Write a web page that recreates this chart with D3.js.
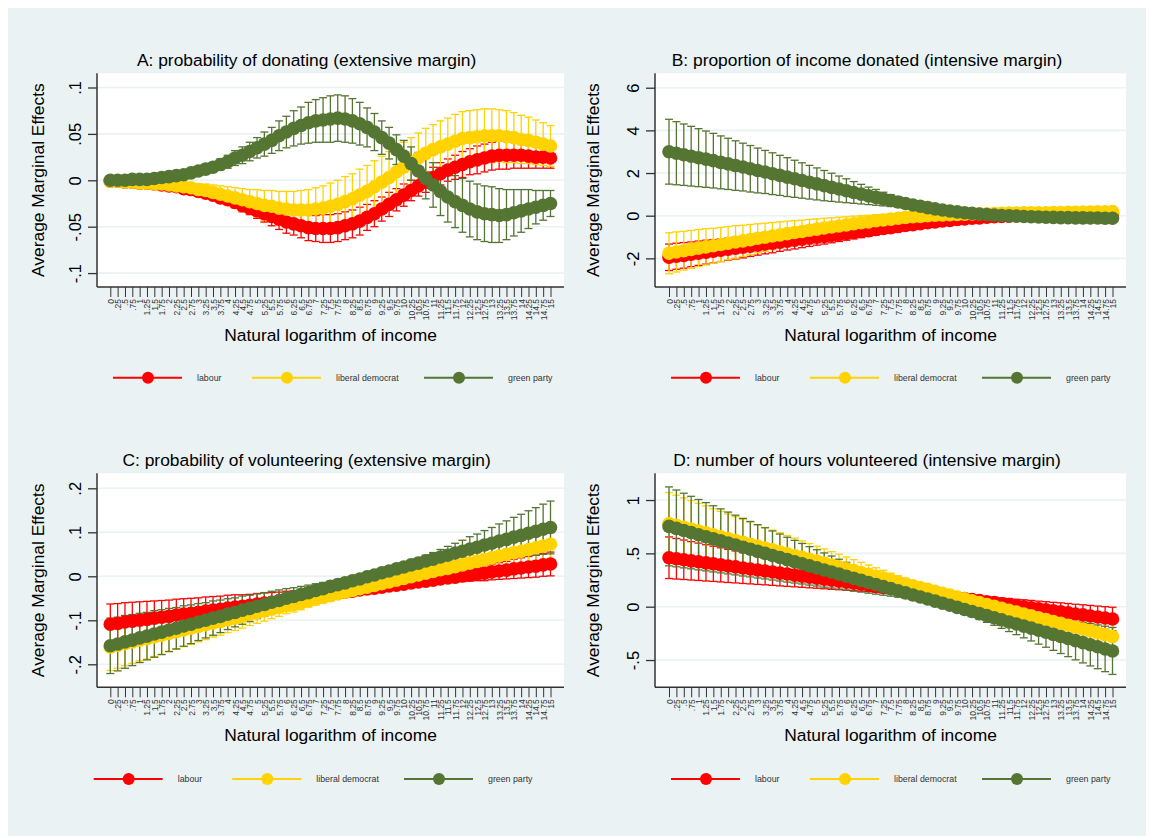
<!DOCTYPE html>
<html>
<head>
<meta charset="utf-8">
<script src="https://cdn.jsdelivr.net/npm/d3@7"></script>
<style>
body { margin: 0; background: #fff; }
svg { display: block; }
text { font-family: "Liberation Sans", Arial, sans-serif; }
</style>
</head>
<body>
<svg id="chart" width="1150" height="839"></svg>
<script>
// x values: natural log of income, 0 to 15 by .25
var xLabels = ["0",".25",".5",".75","1","1.25","1.5","1.75","2","2.25","2.5","2.75","3","3.25","3.5","3.75",
  "4","4.25","4.5","4.75","5","5.25","5.5","5.75","6","6.25","6.5","6.75","7","7.25","7.5","7.75",
  "8","8.25","8.5","8.75","9","9.25","9.5","9.75","10","10.25","10.5","10.75","11","11.25","11.5","11.75",
  "12","12.25","12.5","12.75","13","13.25","13.5","13.75","14","14.25","14.5","14.75","15"];
var xValues = xLabels.map(Number);

var seriesNames = ["labour", "liberal democrat", "green party"];
var seriesColors = ["#ff0000", "#ffd200", "#557532"];

// A: probability of donating
var aLabour = [-0.001,-0.001,-0.002,-0.002, -0.003,-0.003,-0.004,-0.005, -0.006,-0.007,-0.009,-0.010,
  -0.012,-0.014,-0.016,-0.019, -0.021,-0.024,-0.027,-0.030, -0.033,-0.036,-0.039,-0.042,
  -0.045,-0.047,-0.049,-0.051, -0.052,-0.052,-0.052,-0.051, -0.049,-0.047,-0.044,-0.040,
  -0.036,-0.031,-0.026,-0.021, -0.016,-0.011,-0.006,-0.002, 0.003,0.007,0.011,0.014,
  0.017,0.020,0.022,0.024, 0.026,0.027,0.027,0.027, 0.027,0.026,0.025,0.025, 0.024];
var aLabourCI = [0.001,0.001,0.001,0.001, 0.001,0.001,0.002,0.002, 0.002,0.002,0.003,0.003,
  0.003,0.004,0.004,0.005, 0.005,0.006,0.007,0.007, 0.008,0.009,0.010,0.011,
  0.012,0.012,0.013,0.014, 0.014,0.015,0.015,0.015, 0.015,0.015,0.015,0.014,
  0.014,0.013,0.013,0.012, 0.012,0.011,0.011,0.011, 0.011,0.012,0.012,0.013,
  0.014,0.014,0.015,0.015, 0.015,0.015,0.015,0.014, 0.014,0.013,0.012,0.012, 0.011];
var aLibDem = [-0.001,-0.001,-0.002,-0.002, -0.003,-0.003,-0.004,-0.004, -0.005,-0.006,-0.007,-0.008,
  -0.010,-0.011,-0.013,-0.015, -0.017,-0.019,-0.021,-0.023, -0.025,-0.027,-0.028,-0.030,
  -0.031,-0.032,-0.032,-0.032, -0.031,-0.030,-0.028,-0.026, -0.023,-0.020,-0.016,-0.012,
  -0.007,-0.002,0.003,0.009, 0.014,0.019,0.024,0.029, 0.033,0.036,0.039,0.042,
  0.045,0.046,0.047,0.048, 0.048,0.048,0.047,0.046, 0.044,0.043,0.041,0.039, 0.037];
var aLibDemCI = [0.001,0.001,0.001,0.002, 0.002,0.002,0.003,0.003, 0.004,0.004,0.005,0.005,
  0.006,0.007,0.008,0.009, 0.010,0.011,0.012,0.013, 0.015,0.016,0.017,0.018,
  0.019,0.020,0.021,0.022, 0.023,0.024,0.025,0.026, 0.027,0.027,0.028,0.028,
  0.028,0.028,0.028,0.027, 0.027,0.027,0.027,0.027, 0.027,0.028,0.028,0.029,
  0.029,0.029,0.029,0.029, 0.029,0.028,0.028,0.027, 0.026,0.025,0.024,0.023, 0.022];
var aGreen = [0.000,0.000,0.000,0.001, 0.001,0.001,0.002,0.003, 0.004,0.005,0.006,0.008,
  0.010,0.012,0.014,0.017, 0.020,0.024,0.027,0.031, 0.035,0.039,0.043,0.048,
  0.052,0.056,0.059,0.062, 0.064,0.065,0.066,0.067, 0.066,0.064,0.061,0.057,
  0.052,0.046,0.040,0.033, 0.026,0.018,0.010,0.002, -0.005,-0.012,-0.018,-0.023,
  -0.027,-0.031,-0.034,-0.036, -0.037,-0.038,-0.037,-0.035, -0.033,-0.031,-0.029,-0.027, -0.025];
var aGreenCI = [0.001,0.001,0.001,0.001, 0.001,0.002,0.002,0.002, 0.003,0.003,0.003,0.004,
  0.004,0.005,0.005,0.006, 0.007,0.008,0.009,0.010, 0.011,0.013,0.014,0.016,
  0.017,0.019,0.020,0.022, 0.023,0.024,0.025,0.025, 0.025,0.024,0.023,0.021,
  0.020,0.018,0.017,0.016, 0.017,0.018,0.020,0.022, 0.024,0.026,0.027,0.028,
  0.029,0.030,0.030,0.030, 0.030,0.029,0.027,0.025, 0.023,0.021,0.018,0.016, 0.014];

// B: proportion of income donated
var bLabour = [-1.95,-1.90,-1.86,-1.81, -1.76,-1.71,-1.67,-1.62, -1.57,-1.52,-1.48,-1.43,
  -1.38,-1.33,-1.29,-1.24, -1.19,-1.15,-1.10,-1.06, -1.01,-0.97,-0.92,-0.88,
  -0.83,-0.79,-0.74,-0.70, -0.65,-0.60,-0.56,-0.51, -0.46,-0.42,-0.37,-0.33,
  -0.29,-0.25,-0.22,-0.18, -0.15,-0.12,-0.10,-0.07, -0.05,-0.03,-0.02,0.00,
  0.01,0.02,0.03,0.04, 0.05,0.06,0.06,0.07, 0.08,0.08,0.09,0.09, 0.10];
var bLabourCI = [0.62,0.61,0.60,0.58, 0.57,0.56,0.55,0.53, 0.52,0.51,0.50,0.48,
  0.47,0.46,0.45,0.43, 0.42,0.41,0.40,0.38, 0.37,0.36,0.35,0.33,
  0.32,0.30,0.29,0.27, 0.26,0.24,0.23,0.21, 0.20,0.18,0.17,0.15,
  0.14,0.12,0.11,0.09, 0.08,0.07,0.06,0.06, 0.05,0.05,0.05,0.05,
  0.05,0.05,0.05,0.05, 0.06,0.06,0.06,0.06, 0.06,0.06,0.07,0.07, 0.07];
var bLibDem = [-1.76,-1.70,-1.64,-1.58, -1.52,-1.46,-1.41,-1.35, -1.29,-1.23,-1.18,-1.12,
  -1.06,-1.01,-0.95,-0.90, -0.84,-0.79,-0.74,-0.68, -0.63,-0.58,-0.53,-0.48,
  -0.43,-0.38,-0.33,-0.29, -0.24,-0.20,-0.16,-0.12, -0.08,-0.05,-0.03,0.00,
  0.02,0.03,0.05,0.06, 0.07,0.08,0.09,0.09, 0.10,0.11,0.12,0.12,
  0.13,0.13,0.14,0.14, 0.15,0.15,0.16,0.16, 0.17,0.17,0.18,0.18, 0.19];
var bLibDemCI = [0.96,0.94,0.91,0.89, 0.87,0.85,0.82,0.80, 0.78,0.76,0.73,0.71,
  0.68,0.66,0.63,0.61, 0.58,0.56,0.53,0.51, 0.48,0.46,0.43,0.41,
  0.38,0.36,0.33,0.31, 0.28,0.26,0.24,0.21, 0.19,0.17,0.15,0.14,
  0.12,0.11,0.10,0.09, 0.08,0.08,0.07,0.07, 0.06,0.06,0.06,0.06,
  0.06,0.06,0.06,0.06, 0.06,0.06,0.06,0.07, 0.07,0.07,0.07,0.07, 0.07];
var bGreen = [3.00,2.93,2.86,2.79, 2.72,2.65,2.58,2.50, 2.43,2.35,2.28,2.20,
  2.12,2.05,1.97,1.89, 1.81,1.73,1.65,1.57, 1.49,1.41,1.33,1.25,
  1.17,1.09,1.01,0.93, 0.86,0.78,0.71,0.64, 0.57,0.50,0.44,0.38,
  0.32,0.27,0.22,0.18, 0.14,0.11,0.08,0.05, 0.03,0.01,-0.01,-0.02,
  -0.04,-0.05,-0.06,-0.07, -0.08,-0.09,-0.09,-0.10, -0.10,-0.11,-0.11,-0.12, -0.12];
var bGreenCI = [1.52,1.48,1.44,1.40, 1.36,1.32,1.28,1.24, 1.20,1.16,1.12,1.09,
  1.05,1.01,0.98,0.94, 0.91,0.87,0.83,0.79, 0.75,0.71,0.66,0.61,
  0.56,0.51,0.46,0.41, 0.37,0.32,0.28,0.25, 0.21,0.18,0.15,0.13,
  0.11,0.09,0.08,0.07, 0.06,0.05,0.05,0.05, 0.05,0.05,0.05,0.05,
  0.05,0.06,0.06,0.06, 0.06,0.06,0.06,0.06, 0.07,0.07,0.07,0.07, 0.07];

// C: probability of volunteering
var cLabour = [-0.109,-0.107,-0.104,-0.102, -0.100,-0.098,-0.095,-0.093, -0.091,-0.088,-0.086,-0.084,
  -0.082,-0.079,-0.077,-0.075, -0.072,-0.070,-0.068,-0.066, -0.063,-0.061,-0.059,-0.057,
  -0.054,-0.052,-0.050,-0.047, -0.045,-0.043,-0.041,-0.038, -0.036,-0.034,-0.031,-0.029,
  -0.027,-0.025,-0.022,-0.020, -0.018,-0.015,-0.013,-0.011, -0.009,-0.006,-0.004,-0.002,
  0.001,0.003,0.005,0.007, 0.010,0.012,0.014,0.017, 0.019,0.021,0.023,0.026, 0.028];
var cLabourCI = [0.046,0.045,0.044,0.043, 0.042,0.041,0.039,0.038, 0.037,0.036,0.035,0.034,
  0.033,0.032,0.031,0.030, 0.029,0.028,0.026,0.025, 0.024,0.023,0.022,0.021,
  0.020,0.019,0.018,0.017, 0.016,0.015,0.014,0.012, 0.011,0.010,0.009,0.008,
  0.007,0.006,0.006,0.005, 0.005,0.006,0.006,0.007, 0.008,0.009,0.010,0.012,
  0.013,0.014,0.015,0.017, 0.018,0.019,0.020,0.022, 0.023,0.024,0.025,0.026, 0.027];
var cLibDem = [-0.161,-0.157,-0.153,-0.149, -0.145,-0.142,-0.138,-0.134, -0.130,-0.126,-0.122,-0.118,
  -0.114,-0.110,-0.106,-0.103, -0.099,-0.095,-0.091,-0.087, -0.083,-0.079,-0.075,-0.071,
  -0.067,-0.064,-0.060,-0.056, -0.052,-0.048,-0.044,-0.040, -0.036,-0.032,-0.028,-0.025,
  -0.021,-0.017,-0.013,-0.009, -0.005,-0.001,0.003,0.007, 0.011,0.015,0.018,0.022,
  0.026,0.030,0.034,0.038, 0.042,0.046,0.050,0.054, 0.057,0.061,0.065,0.069, 0.073];
var cLibDemCI = [0.053,0.052,0.050,0.049, 0.047,0.046,0.044,0.043, 0.041,0.040,0.038,0.037,
  0.035,0.034,0.032,0.031, 0.029,0.028,0.027,0.025, 0.024,0.023,0.021,0.020,
  0.018,0.017,0.016,0.014, 0.013,0.012,0.010,0.009, 0.008,0.007,0.006,0.006,
  0.005,0.005,0.005,0.006, 0.006,0.007,0.008,0.009, 0.010,0.012,0.013,0.015,
  0.016,0.018,0.019,0.021, 0.022,0.024,0.025,0.027, 0.028,0.030,0.031,0.033, 0.034];
var cGreen = [-0.158,-0.154,-0.149,-0.145, -0.140,-0.136,-0.131,-0.127, -0.122,-0.118,-0.113,-0.109,
  -0.104,-0.100,-0.095,-0.091, -0.086,-0.082,-0.077,-0.073, -0.068,-0.064,-0.059,-0.055,
  -0.050,-0.046,-0.041,-0.037, -0.032,-0.028,-0.023,-0.019, -0.015,-0.010,-0.006,-0.001,
  0.003,0.008,0.012,0.017, 0.021,0.026,0.030,0.035, 0.039,0.044,0.048,0.053,
  0.057,0.062,0.066,0.071, 0.075,0.080,0.084,0.089, 0.093,0.098,0.102,0.107, 0.111];
var cGreenCI = [0.063,0.061,0.060,0.058, 0.056,0.054,0.053,0.051, 0.049,0.047,0.046,0.044,
  0.042,0.040,0.039,0.037, 0.035,0.033,0.032,0.030, 0.028,0.027,0.025,0.024,
  0.022,0.020,0.018,0.017, 0.015,0.014,0.012,0.011, 0.009,0.008,0.007,0.006,
  0.005,0.005,0.006,0.007, 0.008,0.010,0.011,0.013, 0.015,0.017,0.020,0.022,
  0.025,0.028,0.030,0.033, 0.036,0.039,0.042,0.045, 0.048,0.051,0.054,0.057, 0.060];

// D: number of hours volunteered
var dLabour = [0.459,0.449,0.440,0.430, 0.421,0.411,0.402,0.392, 0.382,0.373,0.363,0.354,
  0.344,0.335,0.325,0.315, 0.306,0.296,0.287,0.277, 0.268,0.258,0.248,0.239,
  0.229,0.220,0.210,0.201, 0.191,0.181,0.172,0.162, 0.153,0.143,0.134,0.124,
  0.114,0.105,0.095,0.086, 0.076,0.067,0.057,0.047, 0.038,0.028,0.019,0.009,
  0.000,-0.010,-0.020,-0.029, -0.039,-0.048,-0.058,-0.068, -0.077,-0.087,-0.096,-0.106, -0.115];
var dLabourCI = [0.195,0.190,0.185,0.180, 0.175,0.170,0.165,0.160, 0.155,0.150,0.145,0.140,
  0.135,0.130,0.125,0.120, 0.115,0.110,0.105,0.100, 0.095,0.090,0.085,0.080,
  0.075,0.070,0.065,0.060, 0.055,0.051,0.047,0.044, 0.040,0.037,0.035,0.032,
  0.030,0.031,0.032,0.034, 0.035,0.039,0.042,0.046, 0.050,0.054,0.058,0.061,
  0.065,0.069,0.072,0.076, 0.080,0.084,0.088,0.091, 0.095,0.099,0.102,0.106, 0.110];
var dLibDem = [0.780,0.762,0.745,0.727, 0.709,0.692,0.674,0.656, 0.639,0.621,0.603,0.586,
  0.568,0.550,0.533,0.515, 0.497,0.480,0.462,0.444, 0.427,0.409,0.391,0.374,
  0.356,0.338,0.321,0.303, 0.285,0.268,0.250,0.232, 0.215,0.197,0.179,0.162,
  0.144,0.126,0.109,0.091, 0.073,0.056,0.038,0.020, 0.003,-0.015,-0.033,-0.050,
  -0.068,-0.086,-0.103,-0.121, -0.139,-0.156,-0.174,-0.192, -0.209,-0.227,-0.245,-0.262, -0.280];
var dLibDemCI = [0.290,0.283,0.275,0.268, 0.260,0.253,0.245,0.238, 0.230,0.223,0.215,0.208,
  0.200,0.193,0.185,0.178, 0.170,0.163,0.155,0.148, 0.140,0.133,0.125,0.118,
  0.110,0.103,0.095,0.088, 0.080,0.073,0.065,0.058, 0.050,0.045,0.040,0.035,
  0.030,0.030,0.030,0.030, 0.030,0.035,0.040,0.045, 0.050,0.055,0.060,0.065,
  0.070,0.075,0.080,0.085, 0.090,0.095,0.100,0.105, 0.110,0.118,0.125,0.133, 0.140];
var dGreen = [0.753,0.734,0.714,0.695, 0.675,0.656,0.636,0.617, 0.597,0.578,0.558,0.539,
  0.519,0.500,0.480,0.461, 0.441,0.422,0.403,0.383, 0.364,0.344,0.325,0.305,
  0.286,0.266,0.247,0.227, 0.208,0.188,0.169,0.149, 0.130,0.110,0.091,0.072,
  0.052,0.033,0.013,-0.006, -0.026,-0.045,-0.065,-0.084, -0.104,-0.123,-0.143,-0.162,
  -0.182,-0.201,-0.221,-0.240, -0.259,-0.279,-0.298,-0.318, -0.337,-0.357,-0.376,-0.396, -0.415];
var dGreenCI = [0.370,0.360,0.350,0.340, 0.330,0.320,0.310,0.300, 0.290,0.280,0.270,0.260,
  0.250,0.240,0.230,0.220, 0.210,0.200,0.190,0.180, 0.170,0.160,0.150,0.140,
  0.130,0.120,0.110,0.100, 0.090,0.080,0.070,0.060, 0.050,0.045,0.040,0.035,
  0.030,0.032,0.035,0.037, 0.040,0.048,0.055,0.063, 0.070,0.080,0.090,0.100,
  0.110,0.120,0.130,0.140, 0.150,0.160,0.170,0.180, 0.190,0.198,0.205,0.213, 0.220];

var yTicksA = [-0.1, -0.05, 0, 0.05, 0.1], yLabelsA = ["-.1", "-.05", "0", ".05", ".1"];
var yTicksB = [-2, 0, 2, 4, 6], yLabelsB = ["-2", "0", "2", "4", "6"];
var yTicksC = [-0.2, -0.1, 0, 0.1, 0.2], yLabelsC = ["-.2", "-.1", "0", ".1", ".2"];
var yTicksD = [-0.5, 0, 0.5, 1], yLabelsD = ["-.5", "0", ".5", "1"];

var panels = [
  {title: "A: probability of donating (extensive margin)", means: [aLabour, aLibDem, aGreen], cis: [aLabourCI, aLibDemCI, aGreenCI],
   yDomain: [-0.115, 0.1153], yTicks: yTicksA, yLabels: yLabelsA,
   left: 97, right: 564, top: 73.3, bottom: 287, x0: 110.3, x1: 550.5,
   titleX: 306.6, yTitleX: 44, legendY: 377.7, legendX: [148, 287, 459]},
  {title: "B: proportion of income donated (intensive margin)", means: [bLabour, bLibDem, bGreen], cis: [bLabourCI, bLibDemCI, bGreenCI],
   yDomain: [-3.343, 6.676], yTicks: yTicksB, yLabels: yLabelsB,
   left: 655, right: 1126, top: 73.3, bottom: 287, x0: 669, x1: 1112.5,
   titleX: 867, yTitleX: 599, legendY: 377.7, legendX: [706, 845, 1017]},
  {title: "C: probability of volunteering (extensive margin)", means: [cLabour, cLibDem, cGreen], cis: [cLabourCI, cLibDemCI, cGreenCI],
   yDomain: [-0.2523, 0.2341], yTicks: yTicksC, yLabels: yLabelsC,
   left: 97, right: 564, top: 473.3, bottom: 687.3, x0: 110.3, x1: 550.5,
   titleX: 306.6, yTitleX: 44, legendY: 779, legendX: [128.7, 267.3, 439]},
  {title: "D: number of hours volunteered (intensive margin)", means: [dLabour, dLibDem, dGreen], cis: [dLabourCI, dLibDemCI, dGreenCI],
   yDomain: [-0.7556, 1.2506], yTicks: yTicksD, yLabels: yLabelsD,
   left: 655, right: 1126, top: 473.3, bottom: 687.3, x0: 669, x1: 1112.5,
   titleX: 867, yTitleX: 599, legendY: 779, legendX: [706, 845, 1017]}
];

var svg = d3.select("#chart");
svg.append("rect").attr("x", 8).attr("y", 8).attr("width", 1138).attr("height", 828).attr("fill", "#eaf2f3");

function drawPanel(p) {
  var g = svg.append("g");
  var x = d3.scaleLinear().domain([0, 15]).range([p.x0, p.x1]);
  var y = d3.scaleLinear().domain(p.yDomain).range([p.bottom, p.top]);

  g.append("rect").attr("x", p.left).attr("y", p.top)
    .attr("width", p.right - p.left).attr("height", p.bottom - p.top).attr("fill", "#fff");

  g.selectAll(".grid").data(p.yTicks).enter().append("line")
    .attr("x1", p.left).attr("x2", p.right)
    .attr("y1", function(d) { return y(d); }).attr("y2", function(d) { return y(d); })
    .attr("stroke", "#eaf2f3").attr("stroke-width", 1.6);

  // confidence intervals first, then the markers on top
  p.means.forEach(function(m, s) {
    var ci = p.cis[s];
    var bars = g.append("g").attr("stroke", seriesColors[s]).attr("stroke-width", 1.3).attr("fill", "none");
    xValues.forEach(function(xv, i) {
      var lo = y(m[i] - ci[i]), hi = y(m[i] + ci[i]), cx = x(xv);
      bars.append("line").attr("x1", cx).attr("x2", cx).attr("y1", lo).attr("y2", hi);
      bars.append("line").attr("x1", cx - 4).attr("x2", cx + 4).attr("y1", lo).attr("y2", lo);
      bars.append("line").attr("x1", cx - 4).attr("x2", cx + 4).attr("y1", hi).attr("y2", hi);
    });
  });

  p.means.forEach(function(m, s) {
    var line = d3.line().x(function(d, i) { return x(xValues[i]); }).y(function(d) { return y(d); });
    g.append("path").datum(m).attr("d", line).attr("fill", "none")
      .attr("stroke", seriesColors[s]).attr("stroke-width", 2);
    g.selectAll(null).data(m).enter().append("circle")
      .attr("cx", function(d, i) { return x(xValues[i]); })
      .attr("cy", function(d) { return y(d); })
      .attr("r", 6.8).attr("fill", seriesColors[s]);
  });

  // y axis
  var ya = g.append("g").attr("transform", "translate(" + p.left + ",0)")
    .call(d3.axisLeft(y).tickValues(p.yTicks).tickSize(9).tickSizeOuter(0)
      .tickFormat(function(d, i) { return p.yLabels[i]; }));
  ya.select(".domain").attr("d", "M0," + p.top + "V" + p.bottom).attr("stroke", "#333").attr("stroke-width", 1.5);
  ya.selectAll(".tick line").attr("stroke", "#333").attr("stroke-width", 1.3);
  ya.attr("font-family", null).attr("font-size", null);
  ya.selectAll(".tick text").attr("x", null).attr("dy", null).attr("text-anchor", "middle")
    .attr("transform", "translate(-16,0) rotate(-90)").attr("font-size", 16.5).attr("fill", "#000");

  // x axis
  var xa = g.append("g").attr("transform", "translate(0," + p.bottom + ")")
    .call(d3.axisBottom(x).tickValues(xValues).tickSize(10).tickSizeOuter(0)
      .tickFormat(function(d, i) { return xLabels[i]; }));
  xa.select(".domain").attr("d", "M" + p.left + ",0H" + p.right).attr("stroke", "#333").attr("stroke-width", 1.5);
  xa.selectAll(".tick line").attr("stroke", "#333").attr("stroke-width", 1);
  xa.attr("font-family", null).attr("font-size", null);
  xa.selectAll(".tick text").attr("y", null).attr("dy", null).attr("text-anchor", "end")
    .attr("transform", "translate(3,12) rotate(-90)").attr("font-size", 8.5).attr("fill", "#333");

  // titles
  g.append("text").attr("x", p.titleX).attr("y", p.top - 7).attr("text-anchor", "middle")
    .attr("font-size", 17.4).attr("fill", "#000").text(p.title);
  g.append("text").attr("transform", "translate(" + p.yTitleX + "," + ((p.top + p.bottom) / 2) + ") rotate(-90)")
    .attr("text-anchor", "middle").attr("font-size", 17.4).attr("fill", "#000").text("Average Marginal Effects");
  g.append("text").attr("x", (p.left + p.right) / 2).attr("y", p.bottom + 54).attr("text-anchor", "middle")
    .attr("font-size", 17.4).attr("fill", "#000").text("Natural logarithm of income");

  // legend
  seriesNames.forEach(function(name, s) {
    var mx = p.legendX[s];
    g.append("line").attr("x1", mx - 35).attr("x2", mx + 34).attr("y1", p.legendY).attr("y2", p.legendY)
      .attr("stroke", seriesColors[s]).attr("stroke-width", 2);
    g.append("circle").attr("cx", mx).attr("cy", p.legendY).attr("r", 6).attr("fill", seriesColors[s]);
    g.append("text").attr("x", mx + 49).attr("y", p.legendY + 3).attr("font-size", 8.8)
      .attr("fill", "#333").text(name);
  });
}

panels.forEach(drawPanel);
</script>
</body>
</html>
